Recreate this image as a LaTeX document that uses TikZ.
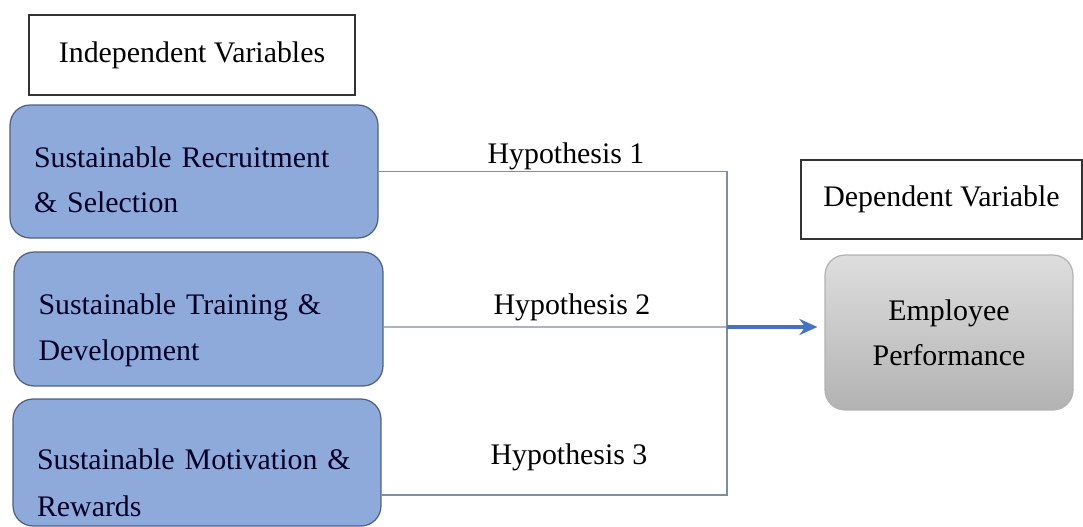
\documentclass[tikz,border=0pt]{standalone}
\usepackage{fontspec}
\setmainfont{Liberation Serif}
\usetikzlibrary{positioning,arrows.meta,calc}
\definecolor{ivblue}{RGB}{142,170,219}
\definecolor{ivedge}{RGB}{80,96,128}
\definecolor{lnk}{RGB}{128,140,160}
\definecolor{arblue}{RGB}{68,114,196}

\begin{document}
\begin{tikzpicture}[
  x=0.02cm, y=-0.02cm,
  font=\fontsize{17}{25.5}\selectfont,
  hdr/.style={rectangle, draw=black!80, line width=0.8pt, fill=white, align=center, inner sep=0pt},
  ivar/.style={rectangle, rounded corners=0.4cm, draw=ivedge, line width=0.7pt, fill=ivblue,
               text=black!85!blue, align=left, text width=6.4cm, inner sep=0pt,
               minimum width=7.36cm},
  dvar/.style={rectangle, rounded corners=0.4cm, draw=black!30, line width=0.7pt,
               top color=black!13, bottom color=black!30, align=center, inner sep=0pt,
               minimum width=4.96cm, minimum height=3.1cm},
  link/.style={draw=lnk, line width=0.7pt},
  arr/.style={-{Stealth[length=3.6mm,width=3.2mm]}, draw=arblue, line width=2.4pt},
  hyp/.style={anchor=base, inner sep=0pt}
]
\useasboundingbox (0,0) rectangle (1083,527);

% left column
\node[hdr, minimum width=6.52cm, minimum height=1.6cm] (iv) at (192,55) {Independent Variables};
\node[ivar, minimum height=2.66cm, text height=0.74cm] (b1) at (194,171.5) {Sustainable Recruitment\\\& Selection};
\node[ivar, minimum height=2.68cm, minimum width=7.38cm, text height=0.86cm] (b2) at (198.5,319) {Sustainable Training \&\\[1pt]Development};
\node[ivar, minimum height=2.54cm, text height=1.22cm] (b3) at (197,462.5) {Sustainable Motivation \&\\[1pt]Rewards};

% right column
\node[hdr, minimum width=5.62cm, minimum height=1.58cm] (dv) at (941.5,199.5) {Dependent Variable};
\node[dvar] (ep) at (949,332.5) {Employee\\Performance};

% connectors
\coordinate (jn) at (727,327);
\draw[link] (b1.east) -| (jn);
\draw[link] ([yshift=-0.16cm]b2.east) -- (jn);
\draw[link] ([yshift=-0.65cm]b3.east) -| (jn);
\draw[arr, shorten >=0.14cm] (jn) -- (jn -| ep.west);

% hypothesis labels
\node[hyp] (h1) at (566,164) {Hypothesis 1};
\node[hyp] (h2) at (572,315) {Hypothesis 2};
\node[hyp] (h3) at (569,464) {Hypothesis 3};
\end{tikzpicture}
\end{document}
